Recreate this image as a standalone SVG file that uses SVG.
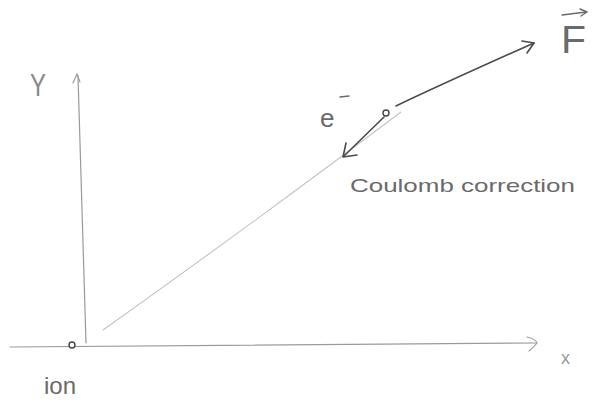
<svg xmlns="http://www.w3.org/2000/svg" width="596" height="404" viewBox="0 0 596 404">
<defs>
<style>
.axis{fill:none;stroke:#9a9a9a;stroke-width:1.2;stroke-linecap:round}
.traj{fill:none;stroke:#c4c4c4;stroke-width:1.1;stroke-linecap:round}
.pen{fill:none;stroke:#4a4a4a;stroke-width:1.6;stroke-linecap:round;stroke-linejoin:round}
.lbl{font-family:"Liberation Sans",Arial,sans-serif;fill:#6a6a6a}
.dot{fill:#fff;stroke:#444;stroke-width:1.4}
.mark{fill:none;stroke:#6a6a6a;stroke-width:1.4;stroke-linecap:round}
</style>
</defs>
<rect width="596" height="404" fill="#ffffff"/>
<g id="connectors">
<path id="x-axis" class="axis" d="M10,347 Q250,344 536,343"/>
<path class="axis" d="M527,337 Q536,339 537,343 Q534,347 529,351"/>
<path id="y-axis" class="axis" d="M86,343 Q82,200 78,76"/>
<path class="axis" d="M73,83 L77,74 L80,82"/>
<path id="trajectory" class="traj" d="M103,330 Q248,227 401,112"/>
<path id="force-arrow" class="pen" d="M396,106 Q440,85 534,43"/>
<path class="pen" d="M522,41 L534,43 L527,53"/>
<path id="coulomb-arrow" class="pen" d="M384,117 L344,156"/>
<path class="pen" d="M346,143 L343,157 L357,155"/>
</g>
<g id="ion">
<circle class="dot" cx="72" cy="345" r="3"/>
<text class="lbl" x="44" y="394" font-size="24">ion</text>
</g>
<g id="electron">
<circle class="dot" cx="386" cy="113" r="3"/>
<text class="lbl" x="320" y="127" font-size="26">e</text>
<path class="mark" d="M340,97 L349,96"/>
</g>
<g id="labels">
<text class="lbl" x="30" y="96" font-size="32" fill="#888" style="fill:#8a8a8a" textLength="16" lengthAdjust="spacingAndGlyphs">Y</text>
<text class="lbl" x="561" y="364" font-size="18" style="fill:#999">x</text>
<text class="lbl" x="561" y="53" font-size="38" textLength="25" lengthAdjust="spacingAndGlyphs">F</text>
<path class="mark" d="M562,15 L586,12 M580,9 L587,12 L581,16"/>
<text class="lbl" x="350" y="192" font-size="19" textLength="225" lengthAdjust="spacingAndGlyphs">Coulomb  correction</text>
</g>
</svg>
